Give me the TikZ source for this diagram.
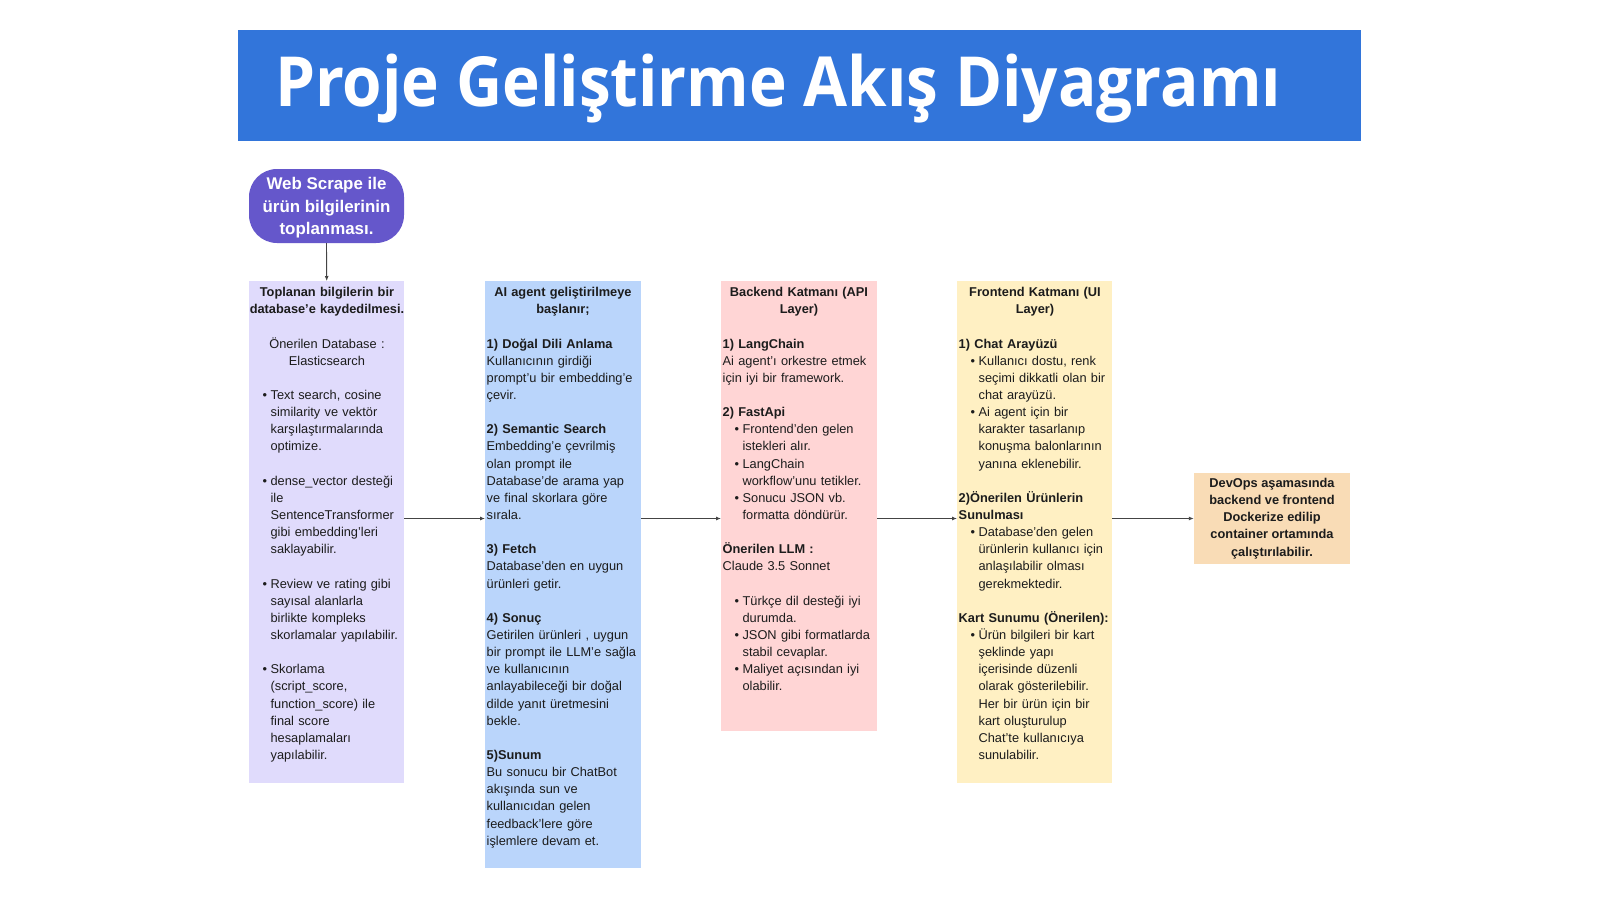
\documentclass[tikz,border=0pt]{standalone}
\usepackage{fontspec}
\setmainfont{Liberation Sans}
\newfontfamily\titlefont{Open Sans}
\usetikzlibrary{arrows.meta}
\definecolor{banner}{HTML}{3275DA}
\definecolor{wsfill}{HTML}{6557CB}
\definecolor{lav}{HTML}{E0DBFC}
\definecolor{sky}{HTML}{BAD5FB}
\definecolor{rose}{HTML}{FFD5D5}
\definecolor{cream}{HTML}{FFF0C3}
\definecolor{peach}{HTML}{F9DCB6}
\definecolor{ink}{HTML}{1C1C1C}
\definecolor{arrowgray}{HTML}{444444}
\newcommand{\hd}[1]{\makebox[155.5pt][c]{\bfseries #1}}
\newcommand{\cn}[1]{\makebox[155.5pt][c]{#1}}
\newcommand{\bl}{\hspace*{13.3pt}\makebox[8.1pt][l]{\textbullet}}
\newcommand{\cl}{\hspace*{21.4pt}}
\newcommand{\ls}{\hspace*{1.5pt}}
\newcommand{\fr}{\rule{0pt}{11pt}}
\tikzset{
  boxshape/.style={draw=none, inner sep=0pt},
  txt/.style={inner sep=0pt, anchor=north west, text width=300pt, align=left,
    font=\fontsize{12.8pt}{17.14pt}\selectfont, text=ink},
  arr/.style={draw=arrowgray, line width=0.9pt, -{Latex[length=5pt,width=4pt]}},
}
\begin{document}
\begin{tikzpicture}[x=1pt,y=-1pt]
\useasboundingbox (0,0) rectangle (1600,900);
\fill[white] (0,0) rectangle (1600,900);
% title banner
\node[boxshape, fill=banner, minimum width=1123pt, minimum height=111pt, anchor=north west] (banner) at (238,30) {};
\node[anchor=base west, inner sep=0pt, text=white] (title) at (275,106)
  {\resizebox{1006pt}{52.5pt}{\titlefont\bfseries Proje Geliştirme Akış Diyagramı}};
% web scrape
\node[boxshape, fill=wsfill, rounded corners=28pt, minimum width=155pt, minimum height=74pt] (ws) at (326.5,206) {};
\node[inner sep=0pt, text=white, align=center, font=\fontsize{16.9pt}{22.45pt}\selectfont\bfseries] (wst) at (326.5,208)
  {Web Scrape ile\\ürün bilgilerinin\\toplanması.};
% boxes
\node[boxshape, fill=lav, minimum width=155pt, minimum height=502pt, anchor=north west] (b1) at (249,281) {};
\node[boxshape, fill=sky, minimum width=156pt, minimum height=587pt, anchor=north west] (b2) at (485,281) {};
\node[boxshape, fill=rose, minimum width=156pt, minimum height=450pt, anchor=north west] (b3) at (721,281) {};
\node[boxshape, fill=cream, minimum width=155pt, minimum height=502pt, anchor=north west] (b4) at (957,281) {};
\node[boxshape, fill=peach, minimum width=156pt, minimum height=91pt, align=center, text=ink,
  font=\fontsize{12.8pt}{17.14pt}\selectfont\bfseries] (b5) at (1272,518.5)
  {DevOps aşamasında\\backend ve frontend\\Dockerize edilip\\container ortamında\\çalıştırılabilir.};
% box 1 text
\node[txt] (b1t) at (249,285.5) {\fr\hd{Toplanan bilgilerin bir}\\
\hd{database’e kaydedilmesi.}\\
\mbox{}\\
\cn{Önerilen Database :}\\
\cn{Elasticsearch}\\
\mbox{}\\
\bl Text search, cosine\\
\cl similarity ve vektör\\
\cl karşılaştırmalarında\\
\cl optimize.\\
\mbox{}\\
\bl dense\_vector desteği\\
\cl ile\\
\cl SentenceTransformer\\
\cl gibi embedding’leri\\
\cl saklayabilir.\\
\mbox{}\\
\bl Review ve rating gibi\\
\cl sayısal alanlarla\\
\cl birlikte kompleks\\
\cl skorlamalar yapılabilir.\\
\mbox{}\\
\bl Skorlama\\
\cl (script\_score,\\
\cl function\_score) ile\\
\cl final score\\
\cl hesaplamaları\\
\cl yapılabilir.};
% box 2 text
\node[txt] (b2t) at (485,285.5) {\fr\hd{AI agent geliştirilmeye}\\
\hd{başlanır;}\\
\mbox{}\\
\ls\textbf{1) Doğal Dili Anlama}\\
\ls Kullanıcının girdiği\\
\ls prompt’u bir embedding’e\\
\ls çevir.\\
\mbox{}\\
\ls\textbf{2) Semantic Search}\\
\ls Embedding’e çevrilmiş\\
\ls olan prompt ile\\
\ls Database’de arama yap\\
\ls ve final skorlara göre\\
\ls sırala.\\
\mbox{}\\
\ls\textbf{3) Fetch}\\
\ls Database’den en uygun\\
\ls ürünleri getir.\\
\mbox{}\\
\ls\textbf{4) Sonuç}\\
\ls Getirilen ürünleri , uygun\\
\ls bir prompt ile LLM’e sağla\\
\ls ve kullanıcının\\
\ls anlayabileceği bir doğal\\
\ls dilde yanıt üretmesini\\
\ls bekle.\\
\mbox{}\\
\ls\textbf{5)Sunum}\\
\ls Bu sonucu bir ChatBot\\
\ls akışında sun ve\\
\ls kullanıcıdan gelen\\
\ls feedback’lere göre\\
\ls işlemlere devam et.};
% box 3 text
\node[txt] (b3t) at (721,285.5) {\fr\hd{Backend Katmanı (API}\\
\hd{Layer)}\\
\mbox{}\\
\ls\textbf{1) LangChain}\\
\ls Ai agent’ı orkestre etmek\\
\ls için iyi bir framework.\\
\mbox{}\\
\ls\textbf{2) FastApi}\\
\bl Frontend’den gelen\\
\cl istekleri alır.\\
\bl LangChain\\
\cl workflow’unu tetikler.\\
\bl Sonucu JSON vb.\\
\cl formatta döndürür.\\
\mbox{}\\
\ls\textbf{Önerilen LLM :}\\
\ls Claude 3.5 Sonnet\\
\mbox{}\\
\bl Türkçe dil desteği iyi\\
\cl durumda.\\
\bl JSON gibi formatlarda\\
\cl stabil cevaplar.\\
\bl Maliyet açısından iyi\\
\cl olabilir.};
% box 4 text
\node[txt] (b4t) at (957,285.5) {\fr\hd{Frontend Katmanı (UI}\\
\hd{Layer)}\\
\mbox{}\\
\ls\textbf{1) Chat Arayüzü}\\
\bl Kullanıcı dostu, renk\\
\cl seçimi dikkatli olan bir\\
\cl chat arayüzü.\\
\bl Ai agent için bir\\
\cl karakter tasarlanıp\\
\cl konuşma balonlarının\\
\cl yanına eklenebilir.\\
\mbox{}\\
\ls\textbf{2)Önerilen Ürünlerin}\\
\ls\textbf{Sunulması}\\
\bl Database’den gelen\\
\cl ürünlerin kullanıcı için\\
\cl anlaşılabilir olması\\
\cl gerekmektedir.\\
\mbox{}\\
\ls\textbf{Kart Sunumu (Önerilen):}\\
\bl Ürün bilgileri bir kart\\
\cl şeklinde yapı\\
\cl içerisinde düzenli\\
\cl olarak gösterilebilir.\\
\cl Her bir ürün için bir\\
\cl kart oluşturulup\\
\cl Chat’te kullanıcıya\\
\cl sunulabilir.};
% connectors
\draw[arr] (ws.south) -- (b1.north);
\draw[arr] (b1.east |- b5.west) -- (b2.west |- b5.west);
\draw[arr] (b2.east |- b5.west) -- (b3.west |- b5.west);
\draw[arr] (b3.east |- b5.west) -- (b4.west |- b5.west);
\draw[arr] (b4.east |- b5.west) -- (b5.west);
\end{tikzpicture}
\end{document}
